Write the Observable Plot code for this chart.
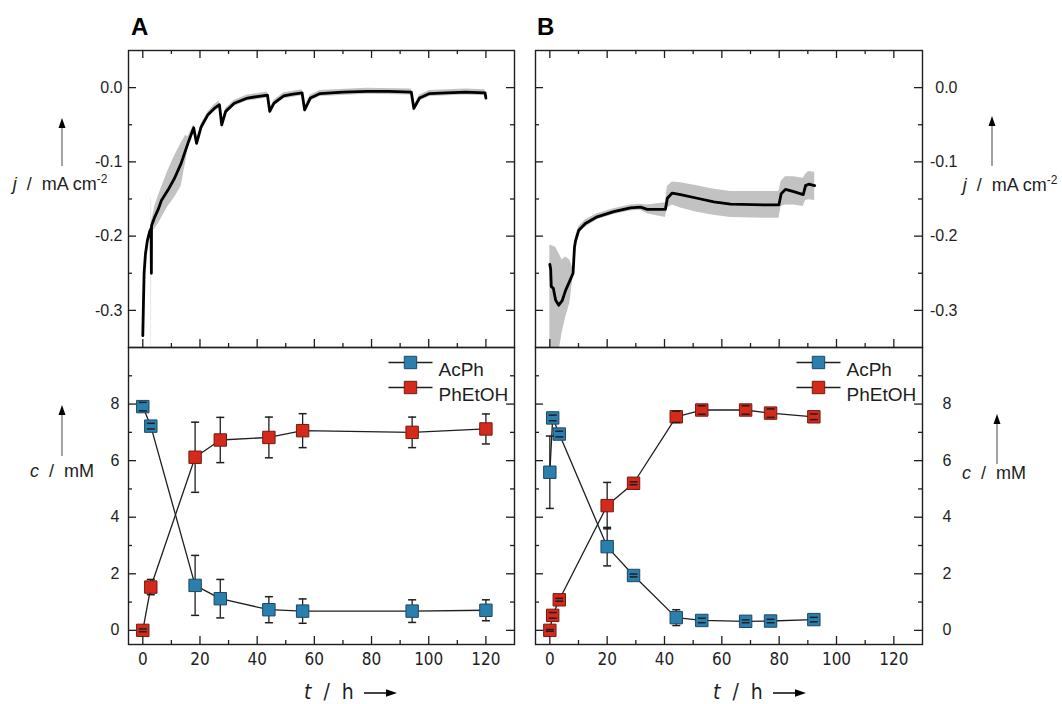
<!DOCTYPE html>
<html><head><meta charset="utf-8">
<script src="https://cdn.jsdelivr.net/npm/d3@7"></script>
<script src="https://cdn.jsdelivr.net/npm/@observablehq/plot@0.6"></script>
<style>
body{margin:0;background:#fff;}
#root{position:relative;width:1062px;height:704px;overflow:hidden;background:#fff;}
</style></head><body><div id="root"></div>
<script>
// ---------- DATA ----------
// Panel A, current density (mean trace)
const tA = [0, 0.23, 0.46, 0.93, 1.6, 2.4, 2.9, 3.0, 3.05, 4.2, 5.5, 6.5, 8.8, 11.1, 13.4, 15.8, 17.8, 18.8, 20.4, 22.7, 25.0, 26.8, 27.6, 29.0, 32.0, 36.6, 40.0, 43.6, 44.4, 45.9, 49.3, 52.0, 55.7, 56.6, 58.6, 62.0, 70.0, 78.3, 86.0, 93.9, 94.8, 96.8, 100.3, 106.0, 113.0, 119.7, 120.0];
const jA = [-0.334, -0.29, -0.25, -0.224, -0.206, -0.194, -0.19, -0.25, -0.186, -0.174, -0.163, -0.152, -0.138, -0.122, -0.102, -0.075, -0.054, -0.075, -0.053, -0.037, -0.028, -0.023, -0.050, -0.032, -0.021, -0.014, -0.012, -0.010, -0.032, -0.021, -0.011, -0.009, -0.007, -0.030, -0.014, -0.008, -0.006, -0.005, -0.005, -0.006, -0.028, -0.014, -0.008, -0.007, -0.006, -0.007, -0.014];
// Panel A, spread band
const tAband = [0, 0.46, 0.93, 1.6, 2.4, 2.9, 2.95, 3.05, 3.1, 4.2, 5.5, 6.5, 8.8, 11.1, 13.4, 15.0, 15.8, 17.8, 18.8, 20.4, 22.7, 25.0, 26.8, 27.6, 29.0, 32.0, 36.6, 43.6, 44.4, 45.9, 49.3, 55.7, 56.6, 58.6, 62.0, 78.3, 93.9, 94.8, 96.8, 100.3, 113.0, 119.7, 120.0];
const jAlo = [-0.338, -0.255, -0.228, -0.210, -0.198, -0.196, -0.352, -0.352, -0.195, -0.190, -0.183, -0.176, -0.160, -0.148, -0.133, -0.100, -0.082, -0.058, -0.079, -0.057, -0.041, -0.032, -0.027, -0.054, -0.036, -0.025, -0.018, -0.014, -0.036, -0.025, -0.015, -0.011, -0.034, -0.018, -0.012, -0.009, -0.010, -0.032, -0.018, -0.012, -0.010, -0.011, -0.018];
const jAhi = [-0.330, -0.245, -0.220, -0.202, -0.190, -0.186, -0.148, -0.148, -0.180, -0.160, -0.145, -0.135, -0.112, -0.092, -0.075, -0.064, -0.066, -0.050, -0.071, -0.049, -0.033, -0.023, -0.018, -0.046, -0.028, -0.017, -0.010, -0.006, -0.028, -0.017, -0.007, -0.003, -0.026, -0.010, -0.004, -0.001, -0.002, -0.024, -0.010, -0.004, -0.002, -0.003, -0.010];

// Panel B, current density (mean trace)
const tB = [0, 0.3, 0.5, 1.2, 2.0, 3.1, 4.3, 5.5, 7.0, 8.1, 8.6, 9.0, 10.1, 12.4, 16.5, 22.3, 28.1, 31.6, 34.0, 40.3, 41.0, 42.7, 45.6, 51.4, 57.2, 63.0, 74.7, 79.9, 80.7, 82.2, 85.1, 88.4, 89.2, 90.3, 92.4];
const jB = [-0.238, -0.245, -0.268, -0.270, -0.286, -0.293, -0.287, -0.273, -0.260, -0.250, -0.215, -0.206, -0.192, -0.183, -0.174, -0.167, -0.162, -0.161, -0.164, -0.164, -0.149, -0.142, -0.144, -0.149, -0.154, -0.157, -0.158, -0.158, -0.143, -0.137, -0.140, -0.144, -0.132, -0.130, -0.132];
// Panel B, spread band
const tBband = [0, 2.0, 3.0, 4.3, 5.5, 7.0, 8.1, 8.6, 9.0, 10.1, 12.4, 16.5, 22.3, 28.1, 31.6, 34.0, 40.3, 41.0, 42.7, 45.6, 51.4, 57.2, 63.0, 74.7, 79.9, 80.7, 82.2, 85.1, 88.4, 89.2, 90.3, 92.4];
const jBlo = [-0.36, -0.36, -0.36, -0.33, -0.31, -0.29, -0.256, -0.222, -0.212, -0.197, -0.188, -0.178, -0.171, -0.166, -0.165, -0.170, -0.175, -0.162, -0.158, -0.162, -0.168, -0.172, -0.175, -0.176, -0.176, -0.160, -0.158, -0.158, -0.160, -0.152, -0.151, -0.152];
const jBhi = [-0.212, -0.215, -0.222, -0.232, -0.228, -0.232, -0.244, -0.210, -0.200, -0.187, -0.178, -0.170, -0.163, -0.158, -0.157, -0.158, -0.155, -0.133, -0.127, -0.128, -0.132, -0.137, -0.140, -0.140, -0.140, -0.126, -0.120, -0.120, -0.122, -0.117, -0.113, -0.114];

// Concentrations
const seriesNames = ["AcPh", "PhEtOH"];
const seriesFill = ["#2b7fae", "#d42a1c"];
const seriesEdge = ["#1b4863", "#761a10"];

const timesA = [0, 2.8, 18.3, 27.1, 44.1, 55.9, 94.2, 120];
const acphA = [7.91, 7.22, 1.59, 1.12, 0.73, 0.68, 0.68, 0.71];
const acphAErr = [0.15, 0.10, 1.06, 0.68, 0.46, 0.43, 0.40, 0.37];
const phetohA = [0.0, 1.53, 6.12, 6.73, 6.82, 7.06, 7.00, 7.12];
const phetohAErr = [0.05, 0.27, 1.24, 0.80, 0.72, 0.60, 0.54, 0.53];

const timesB = [0, 1, 3.3, 20, 29.2, 44.1, 53, 68.3, 77, 92.1];
const acphB = [5.59, 7.51, 6.94, 2.96, 1.94, 0.45, 0.35, 0.32, 0.33, 0.38];
const acphBErr = [1.28, 0.10, 0.10, 0.68, 0.05, 0.28, 0.08, 0.05, 0.06, 0.08];
const phetohB = [0.0, 0.53, 1.08, 4.41, 5.20, 7.55, 7.79, 7.79, 7.68, 7.55];
const phetohBErr = [0.03, 0.10, 0.05, 0.82, 0.05, 0.20, 0.15, 0.15, 0.15, 0.10];

// Axis ticks and labels
const xDomain = [-5, 130];
const xMajor = [0, 20, 40, 60, 80, 100, 120];
const xMinor = [10, 30, 50, 70, 90, 110];
const jDomain = [-0.35, 0.05];
const jMajor = [0, -0.1, -0.2, -0.3];
const jMinor = [-0.05, -0.15, -0.25];
const cDomain = [-0.5, 10];
const cMajor = [0, 2, 4, 6, 8];
const cMinor = [1, 3, 5, 7, 9];
const panelLetters = ["A", "B"];

// ---------- HELPERS ----------
const FONT = '"Liberation Sans", Arial, Helvetica, sans-serif';
const NARROW = '"Liberation Sans Narrow", "Arial Narrow", "DejaVu Sans Condensed", "Liberation Sans", sans-serif';
const INK = "#1e1e1e";
const NB = "\u00A0";
const hline = {draw(ctx, size) { const r = Math.sqrt(size / Math.PI); ctx.moveTo(-r, 0); ctx.lineTo(r, 0); }};

function traceRows(t, j) { return t.map((v, i) => ({t: v, j: j[i]})); }
function bandRows(t, lo, hi) { return t.map((v, i) => ({t: v, lo: lo[i], hi: hi[i]})); }
function concRows(t, c, e) { return t.map((v, i) => ({t: v, c: c[i], lo: c[i] - e[i], hi: c[i] + e[i]})); }

// inward frame ticks drawn as short rules; lengths converted from pixels to data units
function inwardTicks(yDomain, fw, fh, xTop, xBottom) {
  const kx = (xDomain[1] - xDomain[0]) / fw;
  const ky = (yDomain[1] - yDomain[0]) / fh;
  const st = {stroke: INK, strokeWidth: 1.3};
  const m = [];
  const [yMaj, yMin] = yDomain === jDomain ? [jMajor, jMinor] : [cMajor, cMinor];
  for (const [ticks, len] of [[yMaj, 8], [yMin, 4]]) {
    m.push(Plot.ruleY(ticks, {y: d => d, x1: () => xDomain[0], x2: () => xDomain[0] + len * kx, ...st}));
    m.push(Plot.ruleY(ticks, {y: d => d, x1: () => xDomain[1] - len * kx, x2: () => xDomain[1], ...st}));
    if (xTop) m.push(Plot.ruleX(len === 8 ? xMajor : xMinor, {x: d => d, y1: () => yDomain[1], y2: () => yDomain[1] - len * ky, ...st}));
    if (xBottom) m.push(Plot.ruleX(len === 8 ? xMajor : xMinor, {x: d => d, y1: () => yDomain[0], y2: () => yDomain[0] + len * ky, ...st}));
  }
  return m;
}

const root = document.getElementById("root");
function place(frame, yDomain, marks) {
  const [x0, y0, x1, y1] = frame;
  const mL = 75, mR = 75, mT = 15, mB = 45;
  const svg = Plot.plot({
    width: mL + (x1 - x0) + mR,
    height: mT + (y1 - y0) + mB,
    marginLeft: mL, marginRight: mR, marginTop: mT, marginBottom: mB,
    x: {domain: xDomain},
    y: {domain: yDomain},
    style: {fontFamily: FONT, fontSize: "16px", color: INK, background: "transparent", overflow: "visible"},
    marks
  });
  svg.style.position = "absolute";
  svg.style.left = (x0 - mL) + "px";
  svg.style.top = (y0 - mT) + "px";
  svg.style.maxWidth = "none";
  root.appendChild(svg);
}

function topPanel(frame, lineData, bandData, labelSide) {
  const fw = frame[2] - frame[0], fh = frame[3] - frame[1];
  const marks = [
    Plot.areaY(bandData, {x: "t", y1: "lo", y2: "hi", fill: "#c2c2c2", clip: true}),
    Plot.line(lineData, {x: "t", y: "j", stroke: "#000", strokeWidth: 2.8, strokeLinejoin: "round", clip: true}),
    ...inwardTicks(jDomain, fw, fh, true, true),
    labelSide === "left"
      ? Plot.axisY(jMajor, {anchor: "left", tickSize: 0, tickPadding: 6, tickFormat: d => d.toFixed(1), label: null, fill: INK})
      : Plot.axisY(jMajor, {anchor: "right", tickSize: 0, tickPadding: 35, textAnchor: "end", tickFormat: d => d.toFixed(1), label: null, fill: INK}),
    Plot.axisX([], {anchor: "bottom", tickSize: 0, label: null}),
    Plot.frame({stroke: INK, strokeWidth: 1.4})
  ];
  place(frame, jDomain, marks);
}

function bottomPanel(frame, series, labelSide) {
  const fw = frame[2] - frame[0], fh = frame[3] - frame[1];
  const marks = [];
  series.forEach(rows => marks.push(Plot.line(rows, {x: "t", y: "c", stroke: INK, strokeWidth: 1.3})));
  series.forEach(rows => marks.push(Plot.ruleX(rows, {x: "t", y1: "lo", y2: "hi", stroke: INK, strokeWidth: 1.3})));
  series.forEach((rows, i) => marks.push(Plot.dot(rows, {x: "t", y: "c", symbol: "square", r: 7, fill: seriesFill[i], stroke: seriesEdge[i], strokeWidth: 1})));
  series.forEach(rows => {
    marks.push(Plot.dot(rows, {x: "t", y: "lo", symbol: hline, r: 4, fill: "none", stroke: INK, strokeWidth: 1.5}));
    marks.push(Plot.dot(rows, {x: "t", y: "hi", symbol: hline, r: 4, fill: "none", stroke: INK, strokeWidth: 1.5}));
  });
  seriesNames.forEach((name, i) => {
    const dy = 15 + 25 * i;
    marks.push(Plot.dot([name], {frameAnchor: "top-right", dx: -104, dy, symbol: hline, r: 22, fill: "none", stroke: INK, strokeWidth: 1.3}));
    marks.push(Plot.dot([name], {frameAnchor: "top-right", dx: -104, dy, symbol: "square", r: 7, fill: seriesFill[i], stroke: seriesEdge[i], strokeWidth: 1}));
    marks.push(Plot.text([name], {frameAnchor: "top-right", dx: -76, dy, text: d => d, textAnchor: "start", fontSize: 19, fill: INK}));
  });
  marks.push(...inwardTicks(cDomain, fw, fh, false, true));
  marks.push(Plot.axisX(xMajor, {anchor: "bottom", tickSize: 0, tickPadding: 8, label: null, fill: INK, fontFamily: NARROW, fontSize: 17}));
  marks.push(labelSide === "left"
    ? Plot.axisY(cMajor, {anchor: "left", tickSize: 0, tickPadding: 9, label: null, fill: INK})
    : Plot.axisY(cMajor, {anchor: "right", tickSize: 0, tickPadding: 20, label: null, fill: INK}));
  marks.push(Plot.frame({stroke: INK, strokeWidth: 1.4}));
  place(frame, cDomain, marks);
}

// ---------- PANELS ----------
topPanel([128, 50, 514, 347], traceRows(tA, jA), bandRows(tAband, jAlo, jAhi), "left");
topPanel([535, 50, 922, 347], traceRows(tB, jB), bandRows(tBband, jBlo, jBhi), "right");
bottomPanel([128, 347, 514, 644], [concRows(timesA, acphA, acphAErr), concRows(timesA, phetohA, phetohAErr)], "left");
bottomPanel([535, 347, 922, 644], [concRows(timesB, acphB, acphBErr), concRows(timesB, phetohB, phetohBErr)], "right");

// ---------- DECORATIONS (letters, axis titles, arrows) ----------
const deco = d3.create("svg").attr("width", 1062).attr("height", 704)
  .style("position", "absolute").style("left", "0px").style("top", "0px")
  .style("font-family", FONT).style("overflow", "visible");

deco.append("text").attr("x", 131).attr("y", 35).attr("font-size", 24).attr("font-weight", "bold").attr("fill", "#000").text(panelLetters[0]);
deco.append("text").attr("x", 537).attr("y", 35).attr("font-size", 24).attr("font-weight", "bold").attr("fill", "#000").text(panelLetters[1]);

function vArrow(x, yBottom, yTip) {
  deco.append("line").attr("x1", x).attr("x2", x).attr("y1", yBottom).attr("y2", yTip + 8).attr("stroke", "#8c8c8c").attr("stroke-width", 1.6);
  deco.append("path").attr("d", `M${x - 3.5},${yTip + 10}L${x + 3.5},${yTip + 10}L${x},${yTip}Z`).attr("fill", "#000");
}
function hArrow(x1, x2, y) {
  deco.append("line").attr("x1", x1).attr("x2", x2 - 8).attr("y1", y).attr("y2", y).attr("stroke", "#444").attr("stroke-width", 2);
  deco.append("path").attr("d", `M${x2 - 11},${y - 3.8}L${x2 - 11},${y + 3.8}L${x2},${y}Z`).attr("fill", "#000");
}
function jLabel(cx, y) {
  const t = deco.append("text").attr("x", cx).attr("y", y).attr("text-anchor", "middle").attr("font-size", 18).attr("fill", INK);
  t.append("tspan").attr("font-style", "italic").text("j");
  t.append("tspan").text(`${NB}${NB}/${NB}${NB}mA cm`);
  t.append("tspan").attr("font-size", 12).attr("dy", -7).text("-2");
}
function cLabel(cx, y) {
  const t = deco.append("text").attr("x", cx).attr("y", y).attr("text-anchor", "middle").attr("font-size", 18).attr("fill", INK);
  t.append("tspan").attr("font-style", "italic").text("c");
  t.append("tspan").text(`${NB}${NB}/${NB}${NB}mM`);
}
function tLabel(x, y) {
  const t = deco.append("text").attr("x", x).attr("y", y).attr("font-size", 21).attr("font-family", NARROW).attr("fill", INK);
  t.append("tspan").attr("font-style", "italic").text("t");
  t.append("tspan").text(`${NB}${NB}/${NB}${NB}h`);
}

vArrow(62, 166, 118); jLabel(60, 190);
vArrow(62, 456, 405); cLabel(62, 477);
vArrow(992, 166, 116); jLabel(1010, 191);
vArrow(997, 464, 414); cLabel(994, 479);
tLabel(304, 699); hArrow(364, 397, 693);
tLabel(713, 699); hArrow(773, 806, 693);

root.appendChild(deco.node());
</script></body></html>
